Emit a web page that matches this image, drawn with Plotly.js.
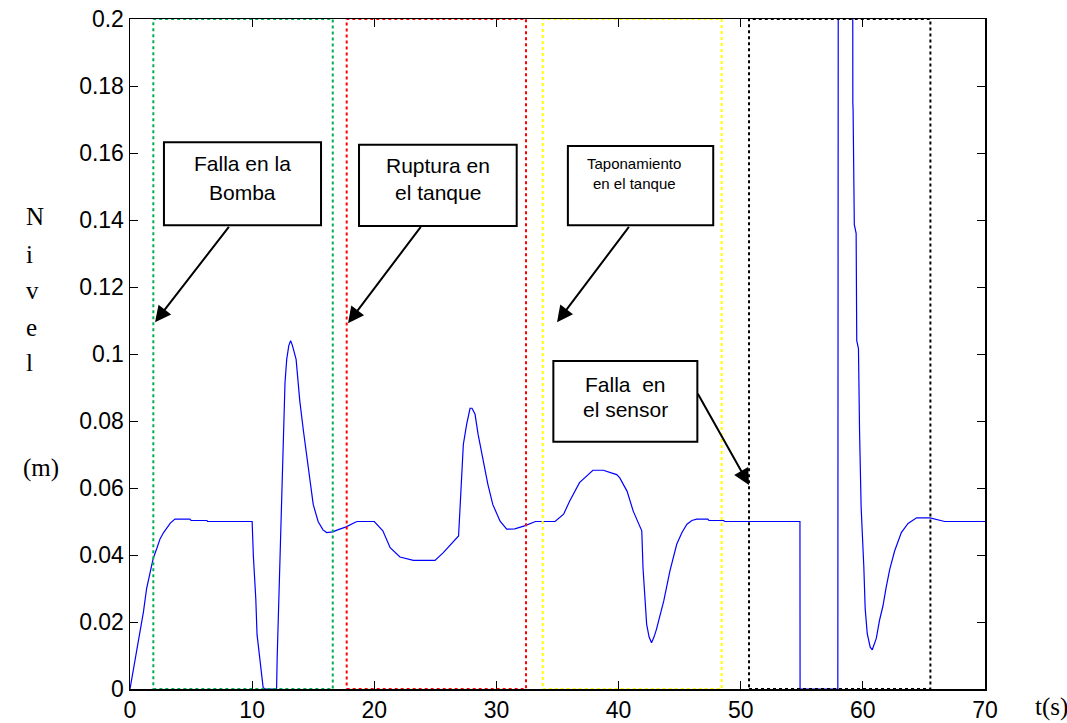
<!DOCTYPE html>
<html>
<head>
<meta charset="utf-8">
<script src="https://cdn.plot.ly/plotly-3.0.1.min.js"></script>
<style>html,body{margin:0;padding:0;background:#fff;}#chart{width:1067px;height:723px;}</style>
</head>
<body>
<div id="chart"></div>
<script>
// Time (s)
const t = [0,0.27,0.55,0.82,1.1,1.36,1.63,1.9,2.2,2.46,2.75,3.0,3.3,3.68,4.9,5.0,6.3,6.35,10.0,10.1,10.3,10.4,10.64,10.9,11.1,12.0,12.05,12.28,12.42,12.55,12.69,12.83,13.0,13.15,13.3,13.6,13.9,14.2,14.47,14.74,15.0,15.4,15.8,16.1,16.6,17.0,17.7,18.4,18.6,20.0,20.3,20.7,21.3,22.1,23.2,24.97,25.65,26.3,26.9,27.0,27.16,27.29,27.56,27.84,28.0,28.25,28.5,28.9,29.3,29.7,30.3,30.84,31.5,32.3,33.0,33.2,34.8,35.5,36.0,36.8,37.9,38.75,39.4,39.85,40.1,40.4,40.7,41.2,41.9,42.0,42.2,42.3,42.5,42.7,42.9,43.1,43.7,44.2,44.76,45.2,45.6,46.0,46.4,47.3,47.4,48.6,48.7,54.85,54.86,57.95,58.0,59.15,59.18,59.2,59.3,59.45,59.5,59.64,59.73,59.86,60.08,60.19,60.36,60.6,60.77,61.1,61.37,61.64,61.9,62.2,62.6,63.15,63.7,64.4,65.5,66.6,66.7,70];
// Nivel (m)
const nivel = [0,0.0054,0.011,0.0164,0.023,0.030,0.035,0.039,0.042,0.0448,0.0467,0.048,0.0495,0.0507,0.0507,0.0503,0.0503,0.050,0.050,0.0397,0.0268,0.0163,0.0079,0.0004,0,0,0.0093,0.039,0.062,0.079,0.0914,0.0984,0.1025,0.104,0.1025,0.0984,0.086,0.077,0.069,0.0616,0.0551,0.050,0.0475,0.0467,0.0469,0.0475,0.0484,0.0497,0.050,0.050,0.0488,0.0472,0.0422,0.0394,0.0384,0.0384,0.0407,0.0432,0.0457,0.0526,0.0646,0.073,0.079,0.0838,0.0838,0.082,0.076,0.068,0.0611,0.0551,0.0501,0.0477,0.0478,0.0487,0.0497,0.050,0.050,0.0522,0.0561,0.0616,0.0653,0.0653,0.0645,0.064,0.063,0.061,0.059,0.0531,0.0472,0.0362,0.0253,0.0193,0.0155,0.0138,0.0155,0.0178,0.0263,0.0352,0.0432,0.0468,0.0492,0.0503,0.0507,0.0507,0.0503,0.0503,0.050,0.050,0,0,0.3,0.3,0.175,0.173,0.1386,0.136,0.104,0.1016,0.0769,0.0542,0.0364,0.024,0.0165,0.0125,0.0117,0.0151,0.0206,0.0247,0.0302,0.0357,0.0412,0.0467,0.0494,0.0511,0.0511,0.0501,0.050,0.050];

// Fault windows (start, end in s) and their colours
const faultStart = [1.91, 17.74, 33.79, 50.68];
const faultEnd = [16.6, 32.42, 48.44, 65.53];
const faultColors = ['#00b050', '#ff0000', '#ffff00', '#000000'];

const xTicks = [0,10,20,30,40,50,60,70];
const yTicks = [0,0.02,0.04,0.06,0.08,0.1,0.12,0.14,0.16,0.18,0.2];
const yTickText = ['0','0.02','0.04','0.06','0.08','0.1','0.12','0.14','0.16','0.18','0.2'];

const sans = 'Liberation Sans, Arial, sans-serif';
const serif = 'Liberation Serif, Times New Roman, serif';

const shapes = [];
for (let i = 0; i < faultStart.length; i++) {
  shapes.push({type:'rect', xref:'x', yref:'y', x0:faultStart[i], x1:faultEnd[i], y0:0, y1:0.2,
    line:{color:faultColors[i], width:2, dash:'dot'}, fillcolor:'rgba(0,0,0,0)', layer:'above'});
}
// label boxes
const boxes = [[2.78,15.64,0.1384,0.1632],[18.75,31.66,0.1382,0.1625],[35.85,47.75,0.1384,0.1621],[34.66,46.45,0.0738,0.0979]];
boxes.forEach(b => shapes.push({type:'rect', xref:'x', yref:'y', x0:b[0], x1:b[1], y0:b[2], y1:b[3],
  line:{color:'#000', width:2}, fillcolor:'#fff', layer:'above'}));

const ann = [];
function txt(s, x, y, size, family) {
  ann.push({text:s, x:x, y:y, xref:'x', yref:'y', showarrow:false, xanchor:'center', yanchor:'middle',
    font:{family:family||sans, size:size, color:'#000'}});
}
txt('Falla en la', 9.21, 0.1569, 21);
txt('Bomba', 9.21, 0.1483, 21);
txt('Ruptura en', 25.2, 0.1563, 21);
txt('el tanque', 25.2, 0.1483, 21);
txt('Taponamiento', 41.3, 0.1568, 15);
txt('en el tanque', 41.3, 0.1509, 15);
txt('Falla&nbsp;&nbsp;en', 40.55, 0.0910, 21);
txt('el sensor', 40.55, 0.0835, 21);

function arrow(ax, ay, x, y) {
  ann.push({text:'', x:x, y:y, ax:ax, ay:ay, xref:'x', yref:'y', axref:'x', ayref:'y',
    showarrow:true, arrowhead:2, arrowsize:1.6, arrowwidth:2, arrowcolor:'#000', standoff:0, startstandoff:0});
}
arrow(8.19, 0.1384, 2.05, 0.1095);
arrow(23.9, 0.1384, 17.85, 0.1092);
arrow(40.94, 0.1384, 34.96, 0.1095);
arrow(46.42, 0.0886, 50.68, 0.0609);

// axis labels
const nivelLetters = ['N','i','v','e','l'];
const nivelY = [216, 254, 290, 327, 362];
nivelLetters.forEach((c, i) => ann.push({text:c, xref:'paper', yref:'paper',
  x:(24-130)/855, y:1-(nivelY[i]-18.5)/670.5, xanchor:'left', yanchor:'middle', showarrow:false,
  font:{family:serif, size:25, color:'#000'}}));
ann.push({text:'(m)', xref:'paper', yref:'paper', x:(21-130)/855, y:1-(468-18.5)/670.5,
  xanchor:'left', yanchor:'middle', showarrow:false, font:{family:serif, size:25, color:'#000'}});
ann.push({text:'t(s)', xref:'paper', yref:'paper', x:(1033-130)/855, y:1-(707-18.5)/670.5,
  xanchor:'left', yanchor:'middle', showarrow:false, font:{family:serif, size:25, color:'#000'}});

const trace = {x:t, y:nivel, type:'scatter', mode:'lines', line:{color:'#0000ff', width:1.2}, hoverinfo:'skip'};

const layout = {
  width:1067, height:723,
  margin:{l:130, r:82, t:18.5, b:34, pad:0},
  paper_bgcolor:'#fff', plot_bgcolor:'#fff',
  showlegend:false,
  xaxis:{range:[0,70], tickvals:xTicks, ticktext:xTicks.map(String), ticks:'inside', ticklen:8, tickwidth:1,
    tickcolor:'#000', showline:true, linecolor:'#000', linewidth:1.5, mirror:'ticks', showgrid:false, zeroline:false,
    tickfont:{family:sans, size:23, color:'#000'}},
  yaxis:{range:[0,0.2], tickvals:yTicks, ticktext:yTickText, ticks:'inside', ticklen:8, tickwidth:1,
    tickcolor:'#000', showline:true, linecolor:'#000', linewidth:1.5, mirror:'ticks', showgrid:false, zeroline:false,
    tickfont:{family:sans, size:23, color:'#000'}},
  shapes:shapes,
  annotations:ann
};

Plotly.newPlot('chart', [trace], layout, {staticPlot:true, displayModeBar:false});
</script>
</body>
</html>
